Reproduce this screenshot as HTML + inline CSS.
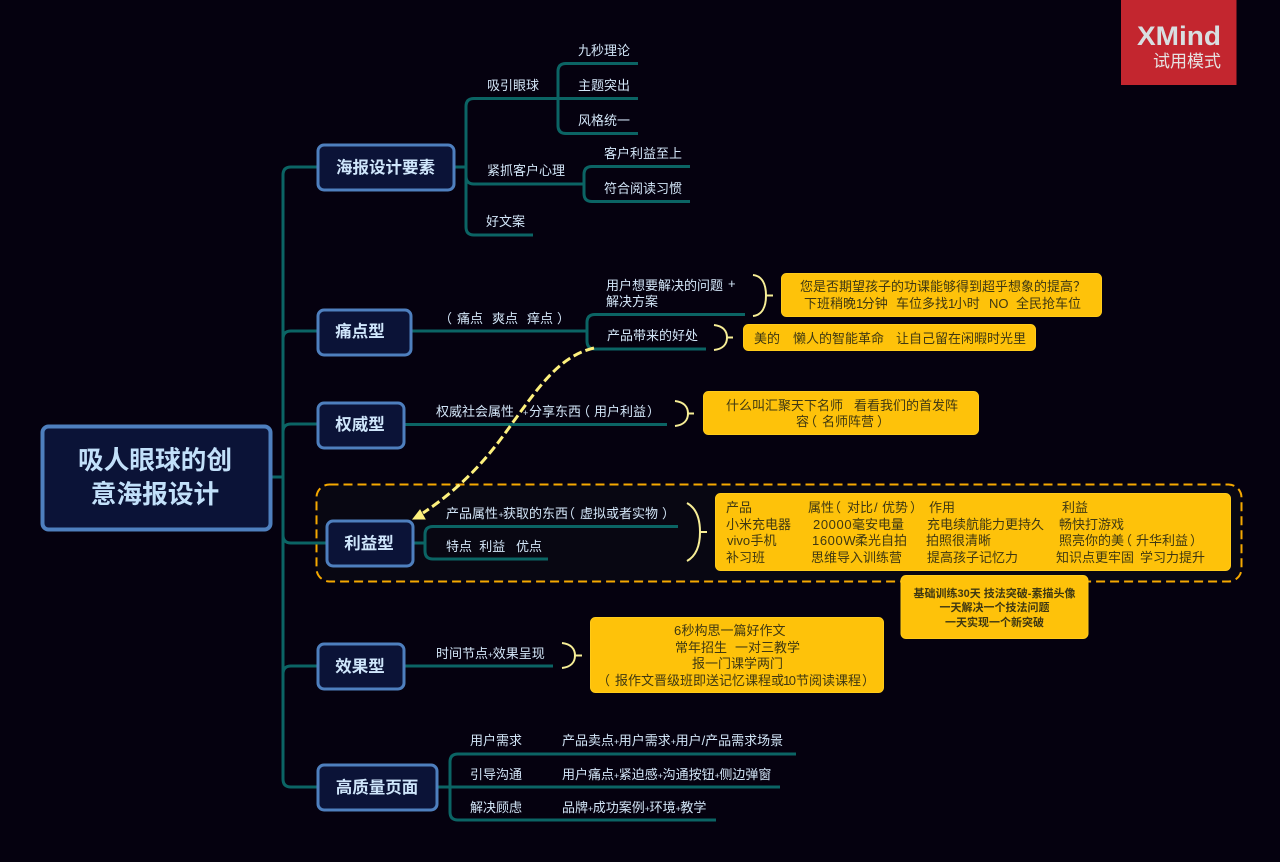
<!DOCTYPE html>
<html lang="zh">
<head>
<meta charset="utf-8">
<title>吸人眼球的创意海报设计</title>
<style>
html,body{margin:0;padding:0;background:#05010f;width:1280px;height:862px;overflow:hidden}
svg{display:block}
text{font-family:"Liberation Sans","Noto Sans CJK SC",sans-serif;white-space:pre}
.l{fill:none;stroke:#0b6464;stroke-width:3}
.b{fill:#0b1337;stroke:#4e7fbe;stroke-width:3}
.t{font-size:16.5px;font-weight:700;fill:#cfe6fb;text-anchor:middle}
.s{font-size:13px;fill:#d3e6f8}
.y{fill:#fec20a;stroke:#ffcb1a;stroke-width:1}
.d{font-size:13px;fill:#3f3812}
.c{text-anchor:middle}
.br{fill:none;stroke:#f7ee96;stroke-width:2}
.p{font-size:9px;letter-spacing:-.5px}
.n{letter-spacing:-1.5px}
.w{letter-spacing:.6px}
</style>
</head>
<body>
<svg width="1280" height="862" viewBox="0 0 1280 862" xmlns="http://www.w3.org/2000/svg">
<rect width="1280" height="862" fill="#05010f"/>

<!-- boundary -->
<rect x="316.500" y="484.500" width="925" height="97" rx="13" fill="#080712" stroke="#f5a800" stroke-width="2" stroke-dasharray="9 5"/>

<!-- main connectors -->
<path class="l" d="M272 477H283M317 167H291Q283 167 283 175V779Q283 787 291 787H317M317 331H291Q283 331 283 339M317 424H291Q283 424 283 432M326 543H291Q283 543 283 535M317 666H291Q283 666 283 674"/>

<!-- 海报 -->
<path class="l" d="M455 167H466M638 98.500H474Q466 98.500 466 106.500V227Q466 235 474 235H533M474 184H583M466 176Q466 184 474 184M638 63.500H566Q558 63.500 558 71.500V125.500Q558 133.500 566 133.500H638M690 166.500H592Q584 166.500 584 174.500V193.500Q584 201.500 592 201.500H690"/>
<!-- 痛点 -->
<path class="l" d="M412 331H587M745 314.500H595Q587 314.500 587 322.500V341Q587 349 595 349H706"/>
<!-- 权威 -->
<path class="l" d="M405 424.500H667"/>
<!-- 利益 -->
<path class="l" d="M414 543H425M678 526.500H433Q425 526.500 425 534.500V551Q425 559 433 559H548"/>
<!-- 效果 -->
<path class="l" d="M405 666H553"/>
<!-- 高质量 -->
<path class="l" d="M438 787H450M796 754H458Q450 754 450 762V812Q450 820 458 820H716M450 787H780"/>

<!-- braces -->
<path class="br" d="M753 275C762 276 766 284 766 295.500C766 307 762 315 753 316M766 295.500H773"/>
<path class="br" d="M714 325C723 326 727 331 727 337.500C727 344 723 349 714 350M727 337.500H733"/>
<path class="br" d="M675 401C684 402 688 407 688 413.500C688 420 684 425 675 426M688 413.500H694"/>
<path class="br" d="M687 503C696 508 700 518 700 532C700 546 696 556 687 561M700 532H707"/>
<path class="br" d="M562 643C571 644 575 649 575 655.500C575 662 571 667 562 668M575 655.500H582"/>

<!-- root -->
<rect x="42.500" y="426.500" width="228" height="103" rx="6" fill="#0b1337" stroke="#4e7fbe" stroke-width="4"/>
<text x="155" y="469" font-size="25.700" font-weight="700" fill="#c2e0fa" text-anchor="middle">吸人眼球的创</text>
<text x="155" y="503" font-size="25.700" font-weight="700" fill="#c2e0fa" text-anchor="middle">意海报设计</text>

<!-- branch boxes -->
<rect class="b" x="318" y="145" width="136" height="45" rx="6"/>
<text class="t" x="385.500" y="173">海报设计要素</text>
<rect class="b" x="318" y="310" width="93" height="45" rx="6"/>
<text class="t" x="360" y="337">痛点型</text>
<rect class="b" x="318" y="403" width="86" height="45" rx="6"/>
<text class="t" x="360" y="430">权威型</text>
<rect class="b" x="327" y="521" width="86" height="45" rx="6"/>
<text class="t" x="369" y="549">利益型</text>
<rect class="b" x="318" y="644" width="86" height="45" rx="6"/>
<text class="t" x="360" y="672">效果型</text>
<rect class="b" x="318" y="765" width="119" height="45" rx="6"/>
<text class="t" x="377" y="793">高质量页面</text>

<!-- sub text -->
<text class="s" x="578" y="55">九秒理论</text>
<text class="s" x="578" y="90">主题突出</text>
<text class="s" x="578" y="125">风格统一</text>
<text class="s" x="487" y="90">吸引眼球</text>
<text class="s" x="487" y="175">紧抓客户心理</text>
<text class="s" x="604" y="158">客户利益至上</text>
<text class="s" x="604" y="193">符合阅读习惯</text>
<text class="s" x="486" y="226">好文案</text>

<text class="s" y="323"><tspan x="439">（</tspan><tspan x="457">痛点</tspan><tspan x="492">爽点</tspan><tspan x="527">痒点</tspan><tspan x="557">）</tspan></text>
<text class="s" x="606" y="290">用户想要解决的问题</text>
<text class="s" x="728" y="288" font-size="10">+</text>
<text class="s" x="606" y="306">解决方案</text>
<text class="s" x="607" y="340">产品带来的好处</text>

<text class="s" y="416"><tspan x="436">权威社会属性</tspan><tspan x="523" class="p">+</tspan><tspan x="529">分享东西</tspan><tspan x="577">（</tspan><tspan x="594">用户利益</tspan><tspan x="647">）</tspan></text>
<text class="s" y="518"><tspan x="446">产品属性</tspan><tspan x="498.500" class="p">+</tspan><tspan x="503">获取的东西</tspan><tspan x="562">（</tspan><tspan x="580">虚拟或者实物</tspan><tspan x="662">）</tspan></text>
<text class="s" x="446" y="551">特点  利益   优点</text>
<text class="s" x="436" y="658">时间节点<tspan class="p">+</tspan>效果呈现</text>

<text class="s" x="470" y="745">用户需求</text>
<text class="s" x="562" y="745">产品卖点<tspan class="p">+</tspan>用户需求<tspan class="p">+</tspan>用户/产品需求场景</text>
<text class="s" x="470" y="779">引导沟通</text>
<text class="s" x="562" y="779">用户痛点<tspan class="p">+</tspan>紧迫感<tspan class="p">+</tspan>沟通按钮<tspan class="p">+</tspan>侧边弹窗</text>
<text class="s" x="470" y="812">解决顾虑</text>
<text class="s" x="562" y="812">品牌<tspan class="p">+</tspan>成功案例<tspan class="p">+</tspan>环境<tspan class="p">+</tspan>教学</text>

<!-- callouts -->
<rect class="y" x="781.500" y="273.500" width="320" height="43" rx="5"/>
<text class="d" x="800" y="291">您是否期望孩子的功课能够得到超乎想象的提高？</text>
<text class="d" y="308"><tspan x="804">下班稍晚<tspan class="n">1</tspan>分钟</tspan><tspan x="896">车位多找<tspan class="n">1</tspan>小时</tspan><tspan x="989">NO</tspan><tspan x="1016">全民抢车位</tspan></text>

<rect class="y" x="743.500" y="324.500" width="292" height="26" rx="5"/>
<text class="d" y="343"><tspan x="754">美的</tspan><tspan x="793">懒人的智能革命</tspan><tspan x="896">让自己留在闲暇时光里</tspan></text>

<rect class="y" x="703.500" y="391.500" width="275" height="43" rx="5"/>
<text class="d" y="410"><tspan x="726">什么叫汇聚天下名师</tspan><tspan x="854">看看我们的首发阵</tspan></text>
<text class="d" y="426"><tspan x="796">容</tspan><tspan x="804">（</tspan><tspan x="822">名师阵营</tspan><tspan x="877">）</tspan></text>

<rect class="y" x="715.500" y="493.500" width="515" height="77" rx="5"/>
<text class="d" x="726" y="512">产品</text>
<text class="d" y="512"><tspan x="808">属性</tspan><tspan x="828">（</tspan><tspan x="847">对比</tspan><tspan x="874">/</tspan><tspan x="882">优势</tspan><tspan x="910">）</tspan></text>
<text class="d" x="929" y="512">作用</text>
<text class="d" x="1062" y="512">利益</text>
<text class="d" x="726" y="529">小米充电器</text>
<text class="d" y="529"><tspan x="813" class="w">20000</tspan><tspan x="852">毫安电量</tspan></text>
<text class="d" x="927" y="529">充电续航能力更持久</text>
<text class="d" x="1059" y="529">畅快打游戏</text>
<text class="d" y="545"><tspan x="727">vivo</tspan><tspan x="750.500">手机</tspan></text>
<text class="d" y="545"><tspan x="812" class="w">1600W</tspan><tspan x="855">柔光自拍</tspan></text>
<text class="d" x="926" y="545">拍照很清晰</text>
<text class="d" y="545"><tspan x="1059">照亮你的美</tspan><tspan x="1119">（</tspan><tspan x="1136">升华利益</tspan><tspan x="1190">）</tspan></text>
<text class="d" x="726" y="562">补习班</text>
<text class="d" x="811" y="562">思维导入训练营</text>
<text class="d" x="927" y="562">提高孩子记忆力</text>
<text class="d" y="562"><tspan x="1056">知识点更牢固</tspan><tspan x="1140">学习力提升</tspan></text>

<rect class="y" x="901" y="575.500" width="187" height="63" rx="5"/>
<text class="c" x="994.500" y="597" font-size="11" font-weight="700" fill="#3f3812">基础训练30天 技法突破-素描头像</text>
<text class="c" x="994.500" y="611" font-size="11" font-weight="700" fill="#3f3812">一天解决一个技法问题</text>
<text class="c" x="994.500" y="626" font-size="11" font-weight="700" fill="#3f3812">一天实现一个新突破</text>

<rect class="y" x="590.500" y="617.500" width="293" height="75" rx="5"/>
<text class="d" y="635"><tspan x="674">6</tspan><tspan x="681.500">秒构思一篇好作文</tspan></text>
<text class="d" y="652"><tspan x="675">常年招生</tspan><tspan x="735">一对三教学</tspan></text>
<text class="d" x="692" y="668">报一门课学两门</text>
<text class="d" y="685"><tspan x="597">（</tspan><tspan x="615">报作文晋级班即送记忆课程或</tspan><tspan x="783" class="n">1</tspan><tspan>0</tspan><tspan x="796">节阅读课程</tspan><tspan x="862">）</tspan></text>

<!-- relationship arrow -->
<path d="M594 348C560 356 540 385 511 425C490 455 465 485 423 513" fill="none" stroke="#fdf07d" stroke-width="3" stroke-dasharray="9 4"/>
<path d="M413 519L420 510L425 519Z" fill="#fdf07d" stroke="#fdf07d" stroke-width="1"/>

<!-- watermark -->
<rect x="1121" y="0" width="115.500" height="85" fill="#c3262f"/>
<text x="1137" y="45" font-size="27" font-weight="700" fill="#d8dfe1" textLength="84" lengthAdjust="spacingAndGlyphs">XMind</text>
<text x="1221" y="67" font-size="17" fill="#e6e2e2" text-anchor="end">试用模式</text>
</svg>
</body>
</html>
